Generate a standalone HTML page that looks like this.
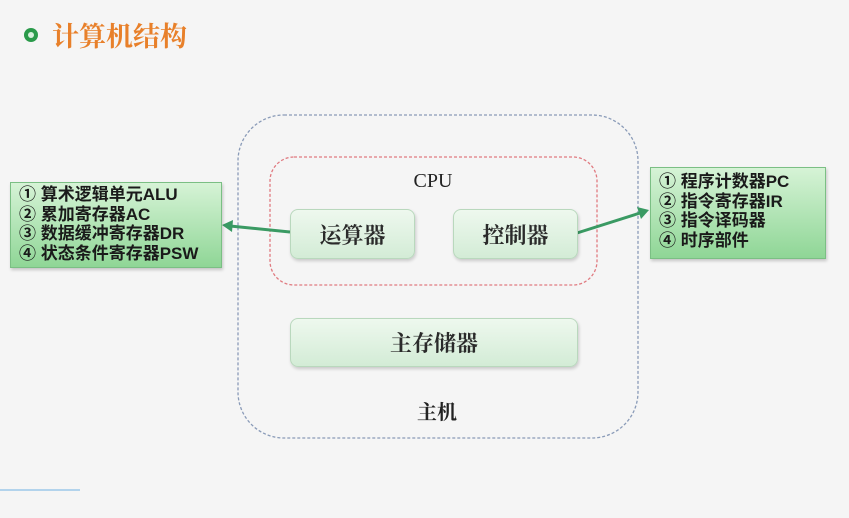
<!DOCTYPE html>
<html><head><meta charset="utf-8"><style>
body{margin:0;width:849px;height:518px;background:#f5f5f5;overflow:hidden;position:relative;font-family:"Liberation Sans","Noto Sans CJK SC",sans-serif}
.abs{position:absolute}
.g{background:linear-gradient(#eef8ee,#d3ecd6);border:1px solid #b9d8bd;border-radius:8px;box-shadow:1px 2px 3px rgba(0,0,0,.18);display:flex;align-items:center;justify-content:center;font-family:"Liberation Serif","Noto Serif CJK SC",serif;font-size:22px;font-weight:bold;color:#2a2a2a}
.list{background:linear-gradient(#d6f3d6,#8fd696);border:1px solid #7bbf84;box-shadow:1px 2px 3px rgba(0,0,0,.2);font-weight:bold;font-size:17px;line-height:19.5px;color:#1a1a1a;padding:2px 0 0 8px;box-sizing:border-box;white-space:nowrap}
</style></head><body>
<svg class="abs" style="left:0;top:0" width="849" height="518">
<rect x="238" y="115" width="400" height="323" rx="46" fill="none" stroke="#8a9bb8" stroke-width="1.3" stroke-dasharray="3,2"/>
<rect x="270" y="157" width="327" height="128" rx="24" fill="none" stroke="#e07a80" stroke-width="1.3" stroke-dasharray="3,2"/>
<line x1="290" y1="232" x2="230" y2="226" stroke="#3a9a63" stroke-width="3"/>
<polygon points="222,225 233,220 232,232" fill="#3a9a63"/>
<line x1="577" y1="233" x2="640" y2="213" stroke="#3a9a63" stroke-width="3"/>
<polygon points="649,210 637,207 641,219" fill="#3a9a63"/>
<line x1="0" y1="490" x2="80" y2="490" stroke="#9cc8ea" stroke-width="1.5"/>
<g transform="translate(31,35)" fill="#2a9a4a"><circle r="7"/><circle r="3" fill="#d6f0dc"/></g>
</svg>
<div class="abs" style="left:52px;top:15px;font-size:27px;color:#e8802a;font-weight:bold;font-family:'Liberation Serif','Noto Serif CJK SC',serif">计算机结构</div>
<div class="abs" style="left:403px;top:170px;width:60px;text-align:center;font-family:'Liberation Serif','Noto Serif CJK SC',serif;font-size:20px;color:#222">CPU</div>
<div class="abs g" style="left:290px;top:209px;width:123px;height:48px">运算器</div>
<div class="abs g" style="left:453px;top:209px;width:123px;height:48px">控制器</div>
<div class="abs g" style="left:290px;top:318px;width:286px;height:47px">主存储器</div>
<div class="abs" style="left:407px;top:396px;width:60px;text-align:center;font-family:'Liberation Serif','Noto Serif CJK SC',serif;font-size:20px;font-weight:bold;color:#222">主机</div>
<div class="abs list" style="left:10px;top:182px;width:212px;height:86px">① 算术逻辑单元ALU<br>② 累加寄存器AC<br>③ 数据缓冲寄存器DR<br>④ 状态条件寄存器PSW</div>
<div class="abs list" style="left:650px;top:167px;width:176px;height:92px;padding-top:4px">① 程序计数器PC<br>② 指令寄存器IR<br>③ 指令译码器<br>④ 时序部件</div>
</body></html>
